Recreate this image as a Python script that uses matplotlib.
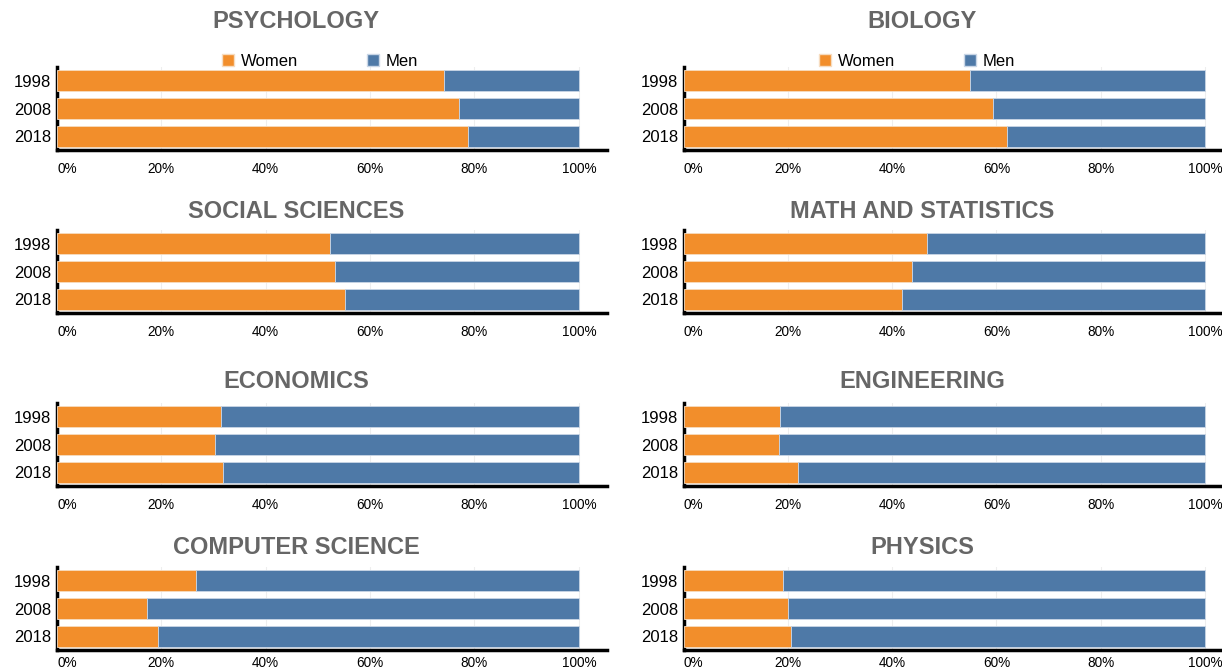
import matplotlib
matplotlib.use("Agg")
import matplotlib.pyplot as plt
from matplotlib.patches import Patch
from matplotlib.ticker import FixedLocator, FixedFormatter

plt.rcParams['font.family'] = ['Liberation Sans', 'DejaVu Sans']

years = ["1998", "2008", "2018"]
fields = ["PSYCHOLOGY", "BIOLOGY", "SOCIAL SCIENCES", "MATH AND STATISTICS",
          "ECONOMICS", "ENGINEERING", "COMPUTER SCIENCE", "PHYSICS"]
women_psychology = [0.742, 0.770, 0.788]
women_biology = [0.549, 0.593, 0.620]
women_social = [0.523, 0.533, 0.551]
women_math = [0.467, 0.437, 0.419]
women_economics = [0.315, 0.303, 0.318]
women_engineering = [0.184, 0.182, 0.219]
women_cs = [0.266, 0.173, 0.194]
women_physics = [0.190, 0.199, 0.205]
women_share = [women_psychology, women_biology, women_social, women_math,
               women_economics, women_engineering, women_cs, women_physics]
x_ticks = [0, 0.2, 0.4, 0.6, 0.8, 1.0]
x_tick_labels = ["0%", "20%", "40%", "60%", "80%", "100%"]

ORANGE = "#F28E2B"
BLUE = "#4E79A7"
W, H = 1222, 671
fig = plt.figure(figsize=(W / 100, H / 100), dpi=100)

# pixel layout
row_top = [67, 230, 403, 567]
ax_h = 83.4
col_x = [(57, 607, 1.054), (684, 1222, 1.033)]
title_y = [22, 211, 381, 548]
title_x = [296, 922]
tick_pad = [8, 8, 8, 4]

for i, field in enumerate(fields):
    r, c = divmod(i, 2)
    x0, x1, xmax = col_x[c]
    top = row_top[r]
    ax = fig.add_axes([x0 / W, 1 - (top + ax_h) / H, (x1 - x0) / W, ax_h / H])
    w = women_share[i]
    m = [1 - v for v in w]
    ypos = list(range(len(years)))
    ax.barh(ypos, w, height=0.75, color=ORANGE, edgecolor="#f6dcc0", linewidth=0.6,
            label="Women", zorder=3)
    ax.barh(ypos, m, left=w, height=0.75, color=BLUE, edgecolor="#c9d6e6", linewidth=0.6,
            label="Men", zorder=3)
    ax.set_ylim(2.5, -0.5)
    ax.set_xlim(0, xmax)
    ax.set_yticks(ypos)
    ax.set_yticklabels(years, fontsize=12)
    ax.xaxis.set_major_locator(FixedLocator(x_ticks))
    ax.xaxis.set_major_formatter(FixedFormatter(x_tick_labels))
    ax.tick_params(axis="x", length=0, pad=tick_pad[r], labelsize=9.8)
    ax.tick_params(axis="y", length=0, pad=4)
    lbls = ax.get_xticklabels()
    lbls[0].set_horizontalalignment("left")
    ax.grid(axis="x", color="#eeeeee", linewidth=0.8, zorder=0)
    ax.set_axisbelow(True)
    for s in ["top", "right"]:
        ax.spines[s].set_visible(False)
    for s in ["left", "bottom"]:
        ax.spines[s].set_linewidth(2.5)
        ax.spines[s].set_color("black")
    fig.text(title_x[c] / W, 1 - title_y[r] / H, field, ha="center", va="center",
             fontsize=17, fontweight="bold", color="#666666")
    if r == 0:
        lx = [320, 917][c]
        handles = [Patch(facecolor=ORANGE, edgecolor="#f6dcc0", label="Women"),
                   Patch(facecolor=BLUE, edgecolor="#c9d6e6", label="Men")]
        ax.legend(handles=handles, loc="center", bbox_to_anchor=(lx / W, 1 - 61 / H),
                  bbox_transform=fig.transFigure, ncol=2, frameon=False, fontsize=12,
                  handlelength=0.75, handleheight=0.75, handletextpad=0.4,
                  columnspacing=4.1, borderpad=0, borderaxespad=0)

fig.savefig("out.png", dpi=100)
